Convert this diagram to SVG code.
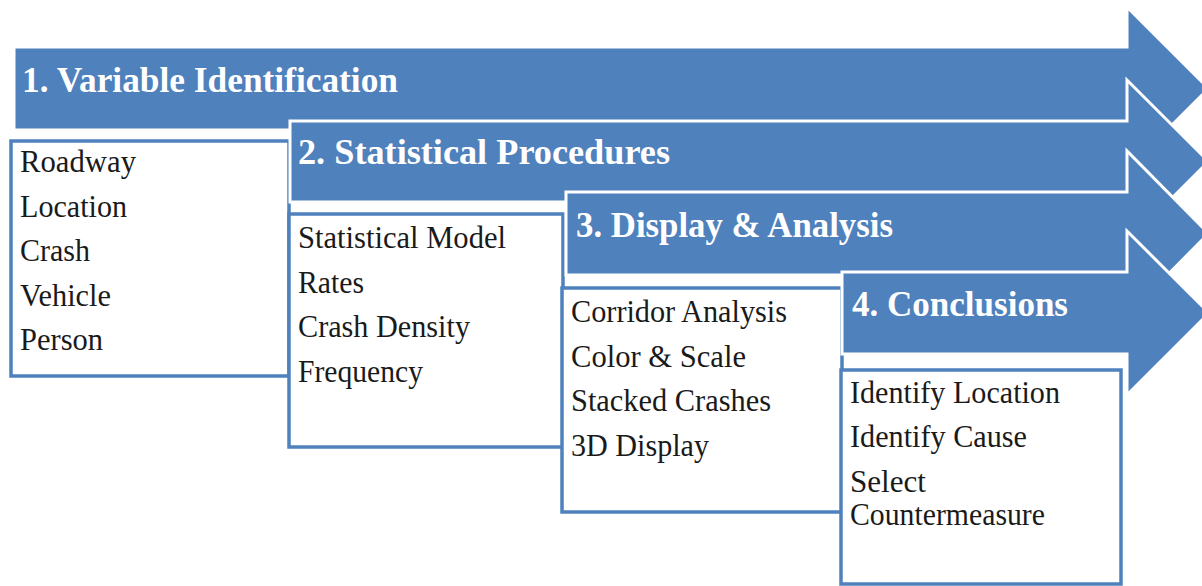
<svg xmlns="http://www.w3.org/2000/svg" width="1202" height="586" viewBox="0 0 1202 586">
<style>
.arrow{fill:#4F81BD;stroke:#FFFFFF;stroke-width:3;stroke-linejoin:miter}
.box{fill:#FFFFFF;stroke:#4F81BD;stroke-width:3.5}
.title{font-family:"Liberation Serif","Times New Roman",serif;font-weight:bold;font-size:36px;fill:#FFFFFF}
.item{font-family:"Liberation Serif","Times New Roman",serif;font-size:31.5px;fill:#1A1A1A}
</style>
<rect width="1202" height="586" fill="#FFFFFF"/>
<g id="step1">
<path class="arrow" d="M14,47 H1127 V7 L1208.5,88.5 L1127,170 V130 H14 Z"/>
<rect class="box" x="11" y="141" width="278" height="235"/>
<text class="title" x="22" y="92" textLength="376" lengthAdjust="spacingAndGlyphs">1. Variable Identification</text>
<text class="item" x="20" y="172" textLength="116" lengthAdjust="spacingAndGlyphs">Roadway</text>
<text class="item" x="20" y="217" textLength="107" lengthAdjust="spacingAndGlyphs">Location</text>
<text class="item" x="20" y="261" textLength="70" lengthAdjust="spacingAndGlyphs">Crash</text>
<text class="item" x="20" y="306" textLength="91" lengthAdjust="spacingAndGlyphs">Vehicle</text>
<text class="item" x="20" y="350" textLength="83" lengthAdjust="spacingAndGlyphs">Person</text>
</g>
<g id="step2">
<path class="arrow" d="M290,121 H1127 V80 L1208.5,161.5 L1127,243 V202 H290 Z"/>
<rect class="box" x="289" y="214" width="274" height="233"/>
<text class="title" x="298" y="164" textLength="372" lengthAdjust="spacingAndGlyphs">2. Statistical Procedures</text>
<text class="item" x="298" y="248" textLength="208" lengthAdjust="spacingAndGlyphs">Statistical Model</text>
<text class="item" x="298" y="293" textLength="66" lengthAdjust="spacingAndGlyphs">Rates</text>
<text class="item" x="298" y="337" textLength="172" lengthAdjust="spacingAndGlyphs">Crash Density</text>
<text class="item" x="298" y="382" textLength="125" lengthAdjust="spacingAndGlyphs">Frequency</text>
</g>
<g id="step3">
<path class="arrow" d="M566,192 H1127 V151 L1208.5,233.5 L1127,316 V275 H566 Z"/>
<rect class="box" x="562" y="288" width="280" height="224"/>
<text class="title" x="576" y="237" textLength="317" lengthAdjust="spacingAndGlyphs">3. Display &amp; Analysis</text>
<text class="item" x="571" y="322" textLength="216" lengthAdjust="spacingAndGlyphs">Corridor Analysis</text>
<text class="item" x="571" y="367" textLength="175" lengthAdjust="spacingAndGlyphs">Color &amp; Scale</text>
<text class="item" x="571" y="411" textLength="200" lengthAdjust="spacingAndGlyphs">Stacked Crashes</text>
<text class="item" x="571" y="456" textLength="138" lengthAdjust="spacingAndGlyphs">3D Display</text>
</g>
<g id="step4">
<path class="arrow" d="M842,272 H1127 V231 L1209,313 L1127,395 V354 H842 Z"/>
<rect class="box" x="841" y="370" width="280" height="214"/>
<text class="title" x="852" y="316" textLength="216" lengthAdjust="spacingAndGlyphs">4. Conclusions</text>
<text class="item" x="850" y="403" textLength="210" lengthAdjust="spacingAndGlyphs">Identify Location</text>
<text class="item" x="850" y="447" textLength="177" lengthAdjust="spacingAndGlyphs">Identify Cause</text>
<text class="item" x="850" y="492" textLength="76" lengthAdjust="spacingAndGlyphs">Select</text>
<text class="item" x="850" y="525" textLength="195" lengthAdjust="spacingAndGlyphs">Countermeasure</text>
</g>
<g id="connectors"></g>
</svg>
